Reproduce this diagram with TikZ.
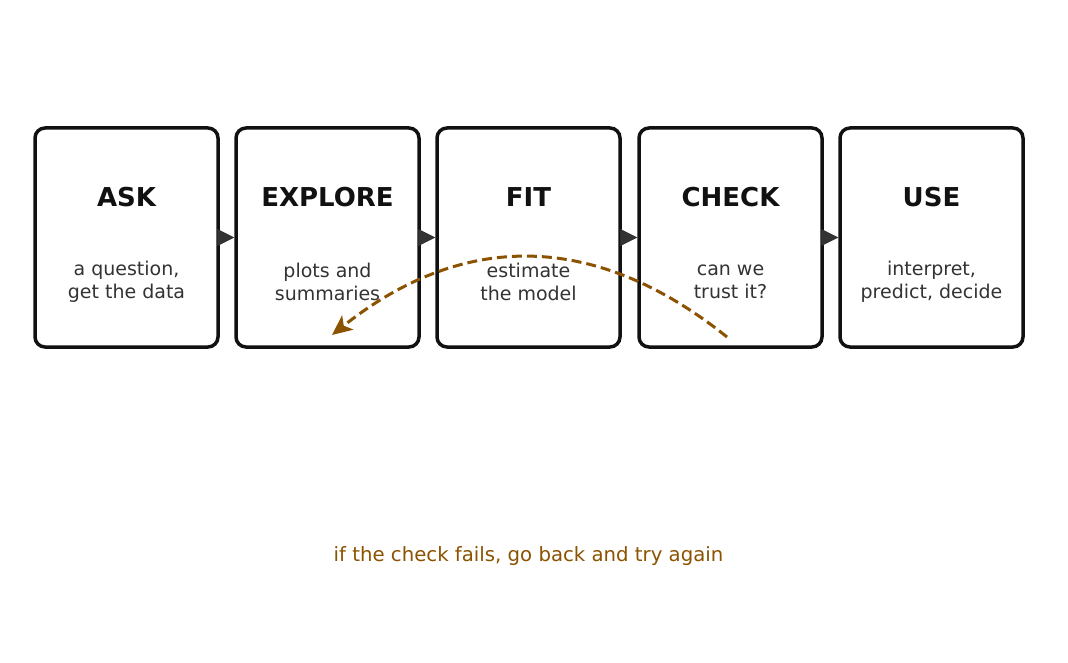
\documentclass[tikz,border=0pt]{standalone}
\usepackage{fontspec}
\setmainfont{DejaVu Sans}
\usetikzlibrary{arrows.meta}
\definecolor{ink}{RGB}{17,17,17}
\definecolor{soft}{RGB}{51,51,51}
\definecolor{loopbrown}{RGB}{139,82,0}
\begin{document}
\begin{tikzpicture}[x=1pt,y=-1pt,
  stage/.style={draw=ink, line width=3.5pt, rounded corners=10pt, fill=white,
    minimum width=183pt, minimum height=219pt, inner sep=0pt},
  stagetitle/.style={text=ink, font=\bfseries\fontsize{26}{31}\selectfont},
  stagesub/.style={text=soft, align=center, font=\fontsize{19}{22.5}\selectfont},
  flow/.style={draw=soft, line width=0.8pt, -{Triangle[length=17pt,width=17pt]}, fill=soft},
  loopback/.style={draw=loopbrown, line width=3pt, dash pattern=on 10pt off 5pt,
    -{Stealth[length=20pt,width=18pt,inset=5pt]}},
  note/.style={text=loopbrown, font=\fontsize{19.7}{23}\selectfont}]
\useasboundingbox (0,0) rectangle (1068,663);

% the five stages
\node[stage] (ask) at (126.5,237.5) {};
\node[stage] (explore) at (327.5,237.5) {};
\node[stage] (fit) at (528.5,237.5) {};
\node[stage] (check) at (730.5,237.5) {};
\node[stage] (use) at (931.5,237.5) {};

\node[stagetitle] (askT) at (126.5,197) {ASK};
\node[stagetitle] (exploreT) at (327.5,197) {EXPLORE};
\node[stagetitle] (fitT) at (528.5,197) {FIT};
\node[stagetitle] (checkT) at (730.5,197) {CHECK};
\node[stagetitle] (useT) at (931.5,197) {USE};

\node[stagesub] (askS) at (126.5,282) {a question,\\get the data};
\node[stagesub] (exploreS) at (327.5,282) {plots and\\summaries};
\node[stagesub] (fitS) at (528.5,282) {estimate\\the model};
\node[stagesub] (checkS) at (730.5,282) {can we\\trust it?};
\node[stagesub] (useS) at (931.5,282) {interpret,\\predict, decide};

% forward flow
\draw[flow] (ask.east) -- (explore.west);
\draw[flow] (explore.east) -- (fit.west);
\draw[flow] (fit.east) -- (check.west);
\draw[flow] (check.east) -- (use.west);

% loop back from CHECK to EXPLORE
\coordinate (loopstart) at (727,337);
\coordinate (loopend) at (332,335);
\draw[loopback] (loopstart) .. controls (595.5,231.5) and (463.5,230.5) .. (loopend);

\node[note] (caption) at (528.5,556) {if the check fails, go back and try again};
\end{tikzpicture}
\end{document}
